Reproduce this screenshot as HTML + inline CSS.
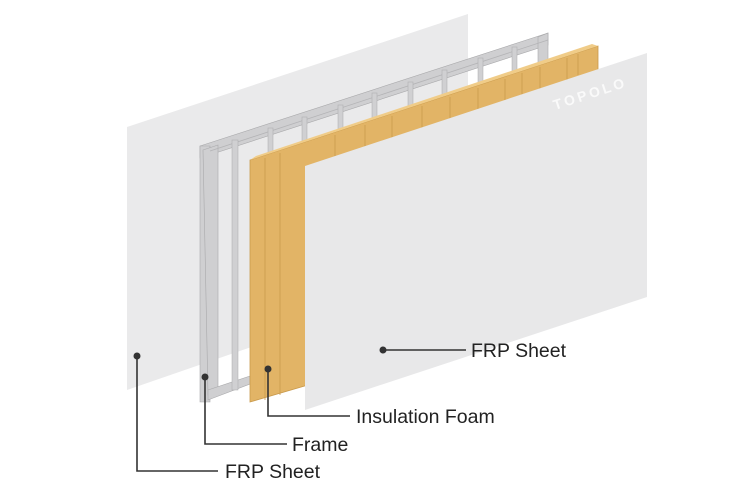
<!DOCTYPE html>
<html><head><style>
body{margin:0;background:#fff;}
svg{display:block;}
text{font-family:"Liberation Sans",sans-serif;font-size:19.5px;fill:#222;}
</style></head><body>
<svg width="750" height="500" viewBox="0 0 750 500">
<!-- back sheet -->
<polygon points="127,127 468,14 468,272 127,390" fill="#eaeaeb"/>
<!-- frame -->
<g fill="#cfcfd1" stroke="#a9a9ab" stroke-width="0.6">
<polygon points="200,146 548,33 548,45 200,158"/>
<polygon points="200,146 210,146 210,402 200,402"/>
<polygon points="203,150 218,145 218,390 208,395"/>
<polygon points="208,390 250,376 250,384 208,400"/>
<polygon points="538,37 548,33 548,90 538,94"/>
</g>
<line x1="210" y1="151" x2="548" y2="40" stroke="#b4b4b6" stroke-width="0.8"/>
<g fill="#d0d0d2" stroke="#a9a9ab" stroke-width="0.5">
<rect x="232" y="140" width="6" height="250"/>
<rect x="268" y="128" width="5" height="40"/>
<rect x="302" y="117" width="5" height="30"/>
<rect x="338" y="105" width="5" height="30"/>
<rect x="372" y="93" width="5" height="30"/>
<rect x="408" y="82" width="5" height="30"/>
<rect x="442" y="70" width="5" height="30"/>
<rect x="478" y="58" width="5" height="30"/>
<rect x="512" y="47" width="5" height="30"/>
</g>
<!-- foam -->
<polygon points="250,160 598,46 598,300 250,402" fill="#e2b466" stroke="#c99a4c" stroke-width="0.8"/>
<polygon points="250,160 598,46 592,44 256,156" fill="#f0cc88"/>
<g stroke="#c99a4c" stroke-width="0.8">
<line x1="265" y1="158" x2="265" y2="400"/>
<line x1="280" y1="153" x2="280" y2="395"/>
<line x1="335" y1="135" x2="335" y2="160"/>
<line x1="365" y1="125" x2="365" y2="150"/>
<line x1="392" y1="116" x2="392" y2="140"/>
<line x1="422" y1="106" x2="422" y2="130"/>
<line x1="450" y1="97" x2="450" y2="120"/>
<line x1="478" y1="88" x2="478" y2="110"/>
<line x1="505" y1="79" x2="505" y2="100"/>
<line x1="522" y1="73" x2="522" y2="95"/>
<line x1="540" y1="67" x2="540" y2="90"/>
<line x1="567" y1="58" x2="567" y2="80"/>
<line x1="578" y1="54" x2="578" y2="75"/>
</g>
<!-- front sheet -->
<polygon points="305,166 647,53 647,297 305,410" fill="#e8e8e9"/>
<text x="555" y="110" transform="rotate(-18 555 110)" style="font-size:14px;fill:#fafafa;font-weight:bold;letter-spacing:3px">TOPOLO</text>
<!-- callouts -->
<g stroke="#333" stroke-width="1.6" fill="none">
<polyline points="137,356 137,471 218,471"/>
<polyline points="205,377 205,444 287,444"/>
<polyline points="268,369 268,416 350,416"/>
<polyline points="383,350 466,350"/>
</g>
<g fill="#333">
<circle cx="137" cy="356" r="3.5"/>
<circle cx="205" cy="377" r="3.5"/>
<circle cx="268" cy="369" r="3.5"/>
<circle cx="383" cy="350" r="3.5"/>
</g>
<text x="225" y="478">FRP Sheet</text>
<text x="292" y="451">Frame</text>
<text x="356" y="423">Insulation Foam</text>
<text x="471" y="357">FRP Sheet</text>
</svg>
</body></html>
